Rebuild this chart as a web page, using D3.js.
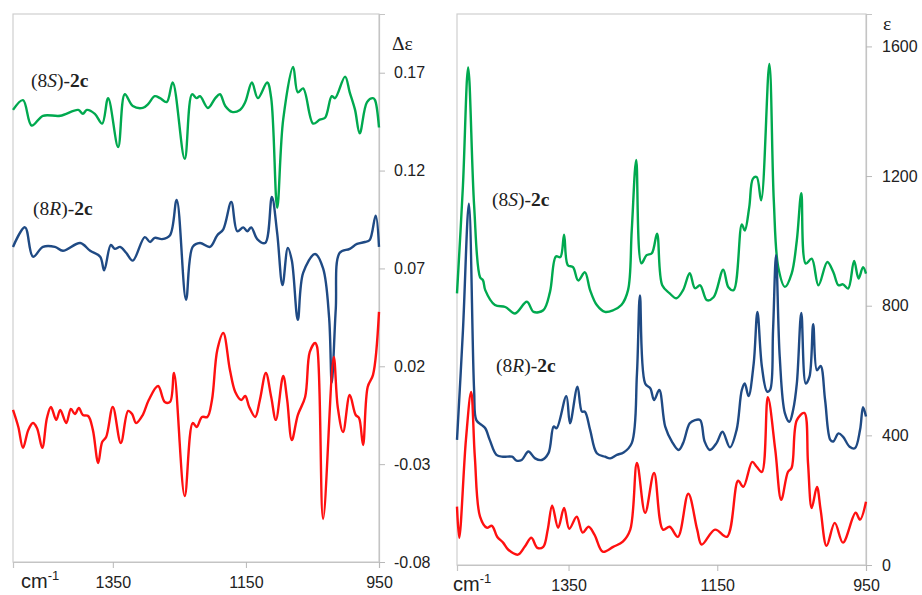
<!DOCTYPE html>
<html>
<head>
<meta charset="utf-8">
<script src="https://cdn.jsdelivr.net/npm/d3@7"></script>
<style>
  html, body { margin: 0; padding: 0; background: #fff; }
  svg { display: block; }
  .tick text { font-family: "Liberation Sans", Arial, sans-serif; font-size: 16px; fill: #222; }
  .lbl { font-family: "Liberation Serif", "Times New Roman", serif; font-size: 19.5px; fill: #222; }
</style>
</head>
<body>
<svg id="chart" width="922" height="595"></svg>
<script>
// VCD spectra (Δε) — [wavenumber cm-1, Δε]
const vcd8S = [
  [1500,0.151],[1485,0.156],[1472,0.143],[1455,0.148],[1429,0.148],[1402,0.151],[1395,0.149],[1389,0.151],
  [1377,0.149],[1366,0.144],[1357,0.157],[1342,0.132],[1332,0.159],[1320,0.153],[1305,0.152],[1297,0.154],
  [1287,0.158],[1279,0.157],[1269,0.155],[1260,0.165],[1242,0.126],[1231,0.159],[1224,0.157],[1219,0.158],
  [1207,0.152],[1196,0.157],[1189,0.159],[1181,0.153],[1171,0.150],[1159,0.151],[1151,0.155],[1141,0.165],
  [1132,0.157],[1118,0.165],[1112,0.157],[1103,0.101],[1094,0.146],[1079,0.173],[1072,0.160],[1064,0.162],
  [1049,0.144],[1039,0.146],[1031,0.147],[1021,0.158],[1016,0.157],[1001,0.168],[994,0.160],[986,0.151],
  [979,0.139],[968,0.155],[959,0.157],[956,0.156],[950,0.142]
];
const vcd8R = [
  [1500,0.081],[1482,0.091],[1470,0.076],[1455,0.081],[1437,0.081],[1425,0.079],[1399,0.083],[1384,0.079],
  [1369,0.076],[1363,0.069],[1353,0.082],[1347,0.080],[1339,0.081],[1330,0.078],[1320,0.074],[1302,0.086],
  [1294,0.0835],[1287,0.0856],[1276,0.085],[1264,0.087],[1254,0.105],[1240,0.054],[1230,0.081],[1219,0.083],
  [1204,0.081],[1193,0.087],[1184,0.090],[1172,0.104],[1163,0.089],[1154,0.091],[1148,0.089],[1142,0.091],
  [1133,0.085],[1121,0.083],[1111,0.1065],[1103,0.088],[1095,0.0615],[1087,0.0805],[1081,0.074],[1072,0.0437],
  [1064,0.0677],[1046,0.0774],[1034,0.070],[1025,0.045],[1021,0.0115],[1015,0.049],[1009,0.078],[994,0.080],
  [983,0.0825],[971,0.0835],[964,0.0845],[955,0.097],[950,0.081]
];
const vcdCalc = [
  [1500,-0.0023],[1492,-0.011],[1485,-0.0217],[1477,-0.0125],[1470,-0.009],[1464,-0.0115],[1456,-0.0217],
  [1449,-0.0064],[1443,-0.0008],[1435,-0.0074],[1429,-0.0023],[1420,-0.009],[1413,-0.0018],[1407,-0.0044],
  [1401,-0.0013],[1395,-0.0049],[1387,-0.0054],[1380,-0.0125],[1372,-0.0294],[1366,-0.0187],[1360,-0.0161],
  [1350,-0.0008],[1338,-0.0192],[1327,-0.0028],[1321,-0.0044],[1315,-0.009],[1305,-0.0049],[1296,0.0028],
  [1282,0.0099],[1272,0.0018],[1264,0.0018],[1258,0.0166],[1242,-0.0463],[1230,-0.009],[1224,-0.011],
  [1216,-0.0059],[1208,-0.0059],[1201,0.0028],[1193,0.0283],[1184,0.037],[1174,0.0181],[1166,0.0069],
  [1157,0.0028],[1151,0.0048],[1145,-0.0008],[1136,-0.0059],[1129,0.0028],[1120,0.0166],[1112,0.0043],
  [1105,-0.0074],[1094,0.015],[1088,0.0028],[1081,-0.0177],[1072,-0.0049],[1061,0.0043],[1054,0.0273],
  [1046,0.0319],[1043,0.0299],[1034,-0.058],[1018,0.0248],[1012,-0.0008],[1004,-0.0136],[994,0.0053],
  [985,-0.0049],[980,-0.0064],[974,-0.0202],[967,0.0094],[959,0.0156],[950,0.0478]
];

// IR spectra (ε) — [wavenumber cm-1, ε]
const ir8S = [
  [1500,838],[1492,1171],[1485,1535],[1477,1110],[1469,888],[1465,878],[1462,848],[1449,802],[1435,796],
  [1422,776],[1406,812],[1397,781],[1384,786],[1375,842],[1367,952],[1361,950],[1356,1019],[1351,925],
  [1344,919],[1337,878],[1328,903],[1321,848],[1312,802],[1301,781],[1290,786],[1279,802],[1270,848],
  [1265,1033],[1259,1250],[1252,931],[1245,956],[1238,962],[1231,1022],[1224,863],[1214,838],[1205,823],
  [1196,848],[1187,900],[1180,854],[1173,863],[1164,817],[1155,826],[1142,911],[1135,857],[1128,848],
  [1117,1051],[1113,1032],[1107,1104],[1102,1192],[1097,1197],[1091,1125],[1080,1546],[1074,1125],
  [1068,919],[1059,858],[1050,899],[1043,1002],[1037,1147],[1031,930],[1023,945],[1014,863],[1002,935],
  [994,904],[987,863],[981,866],[974,853],[966,938],[960,884],[954,919],[950,899]
];
const ir8R = [
  [1500,386],[1492,724],[1484,1115],[1477,540],[1474,447],[1467,432],[1462,422],[1456,386],[1447,340],
  [1438,334],[1426,334],[1420,322],[1413,324],[1404,350],[1395,329],[1386,324],[1377,345],[1370,427],
  [1366,422],[1353,521],[1348,437],[1338,550],[1332,473],[1328,473],[1321,417],[1312,345],[1301,334],
  [1294,329],[1285,340],[1276,347],[1265,376],[1258,591],[1254,832],[1247,560],[1240,545],[1235,509],
  [1228,540],[1220,427],[1211,381],[1202,355],[1196,376],[1187,437],[1180,447],[1173,447],[1167,381],
  [1160,355],[1151,376],[1143,411],[1133,363],[1124,417],[1117,540],[1113,560],[1108,521],[1101,622],
  [1096,781],[1090,612],[1083,535],[1079,540],[1075,724],[1071,956],[1066,642],[1059,468],[1053,442],
  [1048,478],[1043,560],[1037,778],[1031,560],[1026,581],[1021,743],[1016,601],[1011,614],[1005,509],
  [998,386],[994,381],[987,406],[981,396],[972,365],[965,360],[958,417],[954,487],[950,458]
];
const irCalc = [
  [1500,180],[1497,84],[1488,386],[1481,534],[1476,333],[1469,149],[1460,115],[1453,121],[1446,87],
  [1438,69],[1431,47],[1418,32],[1409,56],[1400,84],[1392,53],[1384,56],[1378,109],[1372,183],[1364,115],
  [1356,176],[1349,112],[1339,149],[1331,100],[1323,118],[1315,93],[1304,41],[1290,56],[1277,72],
  [1267,109],[1258,315],[1247,161],[1235,284],[1223,109],[1214,118],[1203,87],[1189,220],[1177,109],
  [1171,63],[1153,109],[1137,87],[1122,260],[1115,241],[1103,318],[1097,303],[1090,287],[1082,518],
  [1072,355],[1064,201],[1055,287],[1050,300],[1043,447],[1033,469],[1028,315],[1023,176],[1016,241],
  [1011,170],[1003,59],[992,130],[981,69],[964,161],[958,140],[950,195]
];

const xTicks = [1350, 1150, 950];
const vcdTicks = [-0.08, -0.03, 0.02, 0.07, 0.12, 0.17];
const irTicks = [0, 400, 800, 1200, 1600];
const seriesColors = { s: "#00a94f", r: "#1f4a84", calc: "#ff1010" };

const svg = d3.select("#chart");
// plain hyphen-minus for negative tick values
const fmt2 = v => d3.format(".2f")(v).replace("\u2212", "-");

function drawPanel(opt) {
  const x = d3.scaleLinear().domain([1500, 950]).range([opt.left, opt.right]);
  const y = d3.scaleLinear().domain(opt.yDomain).range([opt.bottom, opt.top]);
  const g = svg.append("g");

  // plot frame
  g.append("rect")
    .attr("x", opt.left).attr("y", opt.top)
    .attr("width", opt.right - opt.left).attr("height", opt.bottom - opt.top)
    .attr("fill", "none").attr("stroke", "#cfcfcf").attr("stroke-width", 1.2);

  const yAxis = g.append("g")
    .attr("transform", `translate(${opt.right},0)`)
    .call(d3.axisRight(y).tickValues(opt.yTicks).tickSize(6).tickPadding(opt.yPad).tickFormat(opt.yFormat));
  const xAxis = g.append("g")
    .attr("transform", `translate(0,${opt.bottom})`)
    .call(d3.axisBottom(x).tickValues(xTicks).tickSize(6).tickPadding(9).tickFormat(d3.format("d")));
  [yAxis, xAxis].forEach(a => {
    a.select(".domain").attr("stroke", "#c4c4c4").attr("stroke-width", 1.2);
    a.selectAll(".tick line").attr("stroke", "#b8b8b8");
  });

  const line = d3.line()
    .x(d => x(d[0])).y(d => y(d[1]))
    .curve(d3.curveCatmullRom.alpha(0.5));

  opt.series.forEach(s => {
    g.append("path")
      .datum(s.data)
      .attr("fill", "none")
      .attr("stroke", s.color)
      .attr("stroke-width", 2.4)
      .attr("stroke-linejoin", "round")
      .attr("d", line);
  });

  // unit label for wavenumber axis
  const cm = g.append("text")
    .attr("x", opt.left + opt.cmDx).attr("y", opt.bottom + 26)
    .attr("font-family", "Liberation Sans, Arial, sans-serif")
    .attr("font-size", 20).attr("fill", "#222");
  cm.append("tspan").text("cm");
  cm.append("tspan").attr("font-size", 13).attr("dy", -8).text("-1");

  // y quantity label
  g.append("text").attr("class", "lbl")
    .attr("x", opt.yLabelX).attr("y", opt.yLabelY)
    .text(opt.yLabel);

  // compound labels
  opt.names.forEach(n => {
    const t = g.append("text").attr("class", "lbl").attr("x", n.x).attr("y", n.y);
    t.append("tspan").text("(8");
    t.append("tspan").attr("font-style", "italic").text(n.cfg);
    t.append("tspan").text(")-");
    t.append("tspan").attr("font-weight", "bold").text("2c");
  });
}

drawPanel({
  left: 13, right: 379, top: 14, bottom: 562,
  yDomain: [-0.08, 0.2], yTicks: vcdTicks, yPad: 9, yFormat: fmt2,
  yLabel: "Δε", yLabelX: 392, yLabelY: 50,
  cmDx: 8,
  series: [
    { data: vcd8S, color: seriesColors.s },
    { data: vcd8R, color: seriesColors.r },
    { data: vcdCalc, color: seriesColors.calc }
  ],
  names: [ { x: 31, y: 87, cfg: "S" }, { x: 33, y: 215, cfg: "R" } ]
});

drawPanel({
  left: 457, right: 866, top: 14, bottom: 565,
  yDomain: [0, 1700], yTicks: irTicks, yPad: 10, yFormat: d3.format("d"),
  yLabel: "ε", yLabelX: 883, yLabelY: 30,
  cmDx: -4,
  series: [
    { data: ir8S, color: seriesColors.s },
    { data: ir8R, color: seriesColors.r },
    { data: irCalc, color: seriesColors.calc }
  ],
  names: [ { x: 492, y: 206, cfg: "S" }, { x: 496, y: 372, cfg: "R" } ]
});
</script>
</body>
</html>
